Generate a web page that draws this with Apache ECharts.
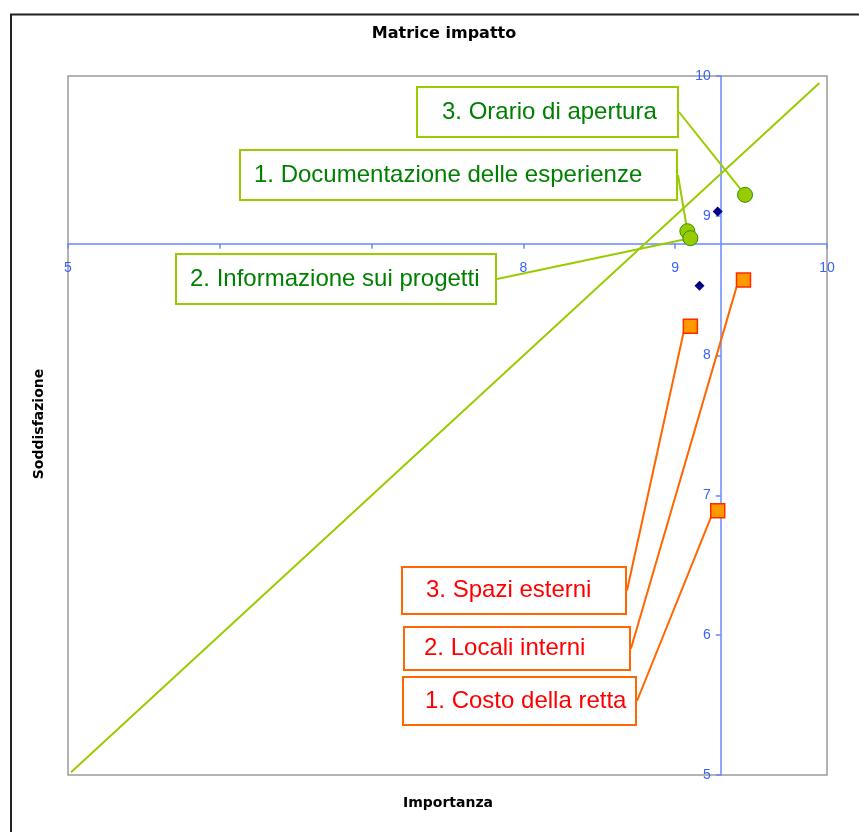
<!DOCTYPE html>
<html lang="it">
<head>
<meta charset="UTF-8">
<title>Matrice impatto</title>
<script src="https://cdn.jsdelivr.net/npm/echarts@6/dist/echarts.min.js"></script>
<style>html, body { margin: 0; padding: 0; background: #fff; }</style>
</head>
<body>
<div id="main" style="width: 859px; height: 832px"></div>
<script type="text/javascript">
// --- data ---
const greenNames = ["3. Orario di apertura", "1. Documentazione delle esperienze", "2. Informazione sui progetti"];
const greenImportanza = [9.46, 9.08, 9.10];
const greenSoddisfazione = [9.15, 8.89, 8.84];

const orangeNames = ["2. Locali interni", "3. Spazi esterni", "1. Costo della retta"];
const orangeImportanza = [9.45, 9.10, 9.28];
const orangeSoddisfazione = [8.54, 8.21, 6.89];

const meanImportanza = [9.28, 9.16];
const meanSoddisfazione = [9.03, 8.50];

const diagonalEnds = [5.02, 9.95];
const axisMin = 5, axisMax = 10, axisStep = 1;
const crossImportanza = 9.3, crossSoddisfazione = 8.8;

// --- layout of the callout boxes (pixels) ---
const greenBoxes = [
  { x: 418, y: 88, w: 259, h: 48, pad: 24 },
  { x: 241, y: 151, w: 435, h: 48, pad: 13 },
  { x: 177, y: 255, w: 318, h: 48, pad: 13 }
];
const orangeBoxes = [
  { x: 405, y: 628, w: 224, h: 41, pad: 19 },
  { x: 403, y: 568, w: 222, h: 45, pad: 23 },
  { x: 404, y: 678, w: 231, h: 46, pad: 21 }
];

const grid = { left: 68, top: 76, width: 759, height: 699 };
const blueLine = "#6a88ff";
const blueText = "#3a62ff";

function items(names, xs, ys, boxes) {
  return names.map((n, i) => ({
    name: n,
    value: [xs[i], ys[i]],
    label: {
      width: boxes[i].w - boxes[i].pad,
      lineHeight: boxes[i].h,
      padding: [0, 0, 0, boxes[i].pad]
    }
  }));
}

function boxLayout(boxes) {
  return function (p) {
    const b = boxes[p.dataIndex];
    return { x: b.x, y: b.y, align: "left", verticalAlign: "top" };
  };
}

let myChart = echarts.init(document.getElementById("main"));

let options = {
  animation: false,
  title: {
    text: "Matrice impatto",
    left: 439,
    top: 21,
    textAlign: "center",
    textStyle: { fontFamily: "DejaVu Sans", fontWeight: "bold", fontSize: 16, color: "#000" }
  },
  grid: {
    left: grid.left, top: grid.top, width: grid.width, height: grid.height,
    show: true, borderColor: "#9a9a9a", borderWidth: 1.5,
    containLabel: false, outerBoundsMode: "none"
  },
  xAxis: {
    type: "value", min: axisMin, max: axisMax, interval: axisStep,
    offset: -grid.height * (crossSoddisfazione - axisMin) / (axisMax - axisMin),
    axisLine: { onZero: false, lineStyle: { color: blueLine, width: 1.5 } },
    axisTick: { show: true, length: 5, lineStyle: { color: blueLine, width: 1.5 } },
    axisLabel: { color: blueText, fontSize: 14, margin: 17, fontFamily: "Liberation Sans" },
    splitLine: { show: false }
  },
  yAxis: {
    type: "value", min: axisMin, max: axisMax, interval: axisStep,
    offset: -grid.width * (crossImportanza - axisMin) / (axisMax - axisMin),
    axisLine: { onZero: false, lineStyle: { color: blueLine, width: 1.5 } },
    axisTick: { show: true, length: 5, lineStyle: { color: blueLine, width: 1.5 } },
    axisLabel: { color: blueText, fontSize: 14, margin: 10, fontFamily: "Liberation Sans" },
    splitLine: { show: false }
  },
  graphic: [
    { type: "rect", silent: true, shape: { x: 11, y: 14.5, width: 1000, height: 1000 },
      style: { fill: null, stroke: "#222", lineWidth: 2 } },
    { type: "text", x: 448, y: 803, silent: true,
      style: { text: "Importanza", fontFamily: "DejaVu Sans", fontWeight: "bold", fontSize: 14,
               fill: "#000", align: "center", verticalAlign: "middle" } },
    { type: "text", x: 39, y: 424, rotation: Math.PI / 2, silent: true,
      style: { text: "Soddisfazione", fontFamily: "DejaVu Sans", fontWeight: "bold", fontSize: 14,
               fill: "#000", align: "center", verticalAlign: "middle" } }
  ],
  series: [
    {
      type: "line",
      data: [[diagonalEnds[0], diagonalEnds[0]], [diagonalEnds[1], diagonalEnds[1]]],
      symbol: "none",
      lineStyle: { color: "#99cc00", width: 2 },
      z: 1
    },
    {
      type: "scatter",
      symbol: "diamond",
      symbolSize: 10,
      itemStyle: { color: "#000080", opacity: 1 },
      data: meanImportanza.map((x, i) => [x, meanSoddisfazione[i]])
    },
    {
      type: "scatter",
      symbol: "circle",
      symbolSize: 15,
      itemStyle: { color: "#99cc00", borderColor: "#2f8f00", borderWidth: 1, opacity: 1 },
      label: {
        show: true, position: "left", formatter: "{b}", opacity: 1,
        color: "#008000", fontSize: 24, fontFamily: "Liberation Sans",
        backgroundColor: "#fff", borderColor: "#99cc00", borderWidth: 2
      },
      labelLine: { show: true, length2: 0, lineStyle: { color: "#99cc00", width: 2, opacity: 1 } },
      labelLayout: boxLayout(greenBoxes),
      data: items(greenNames, greenImportanza, greenSoddisfazione, greenBoxes)
    },
    {
      type: "scatter",
      symbol: "rect",
      symbolSize: 14,
      itemStyle: { color: "#ff9900", borderColor: "#ff2a00", borderWidth: 1.5, opacity: 1 },
      label: {
        show: true, position: "left", formatter: "{b}", opacity: 1,
        color: "#ff0000", fontSize: 24, fontFamily: "Liberation Sans",
        backgroundColor: "#fff", borderColor: "#ff6600", borderWidth: 2
      },
      labelLine: { show: true, length2: 0, lineStyle: { color: "#ff6600", width: 2, opacity: 1 } },
      labelLayout: boxLayout(orangeBoxes),
      data: items(orangeNames, orangeImportanza, orangeSoddisfazione, orangeBoxes)
    }
  ]
};

myChart.setOption(options);
</script>
</body>
</html>
